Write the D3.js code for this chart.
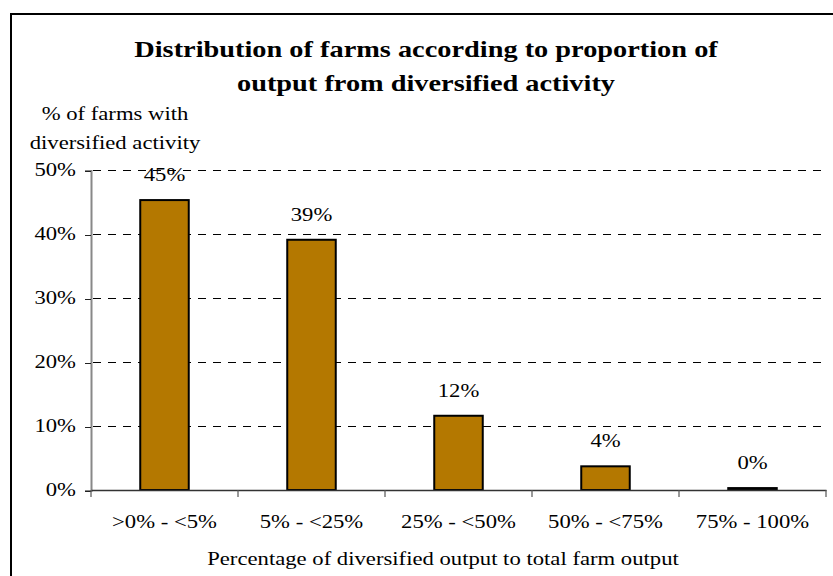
<!DOCTYPE html>
<html>
<head>
<meta charset="utf-8">
<script src="https://cdn.jsdelivr.net/npm/d3@7"></script>
<style>
  html, body { margin: 0; padding: 0; background: #fff; }
  svg { display: block; }
</style>
</head>
<body>
<svg id="chart" width="833" height="576"></svg>
<script>
// Data
const categories = [">0% - <5%", "5% - <25%", "25% - <50%", "50% - <75%", "75% - 100%"];
const shares = [0.453, 0.391, 0.116, 0.037, 0.003];
const yTicks = [0, 0.1, 0.2, 0.3, 0.4, 0.5];
const titleLines = ["Distribution of farms according to proportion of", "output from diversified activity"];
const yTitleLines = ["% of farms with", "diversified activity"];
const xTitle = "Percentage of diversified output to total farm output";

const W = 833, H = 576;
const SX = 1.26; // horizontal text widening
const FONT = "'Liberation Serif', Tinos, 'Times New Roman', 'DejaVu Serif', serif";
const pct = d3.format(".0%");

const svg = d3.select("#chart");

const x = d3.scaleBand().domain(categories).range([91, 826]).padding(0);
const y = d3.scaleLinear().domain([0, 0.5]).range([490, 170]);

// helper: text widened horizontally around its anchor point
function label(g, str, px, py, opts) {
  return g.append("text")
    .attr("transform", `translate(${px},${py}) scale(${SX},1)`)
    .attr("text-anchor", opts.anchor || "middle")
    .attr("font-family", FONT)
    .attr("font-size", opts.size || 18)
    .attr("font-weight", opts.weight || "normal")
    .attr("fill", "#000")
    .text(str);
}

// outer frame (top and left edges)
svg.append("path")
  .attr("d", `M11,${H + 2} L11,14 L${W + 2},14`)
  .attr("fill", "none")
  .attr("stroke", "#000")
  .attr("stroke-width", 2);

// title
titleLines.forEach((t, i) => label(svg, t, 426, 57 + i * 34, { size: 22.5, weight: "bold" }));

// y-axis title
yTitleLines.forEach((t, i) => label(svg, t, 115, 120 + i * 29, { size: 18 }));

// gridlines
svg.append("g").selectAll("line")
  .data(yTicks.filter(d => d > 0))
  .join("line")
  .attr("x1", 91).attr("x2", 826)
  .attr("y1", d => y(d) + 0.5).attr("y2", d => y(d) + 0.5)
  .attr("stroke", "#000")
  .attr("stroke-width", 1)
  .attr("shape-rendering", "crispEdges")
  .attr("stroke-dasharray", "8,7")
  .attr("stroke-dashoffset", -2);

// y axis
const yAxis = svg.append("g")
  .attr("transform", "translate(91,0.5)")
  .call(d3.axisLeft(y).tickValues(yTicks).tickSize(6).tickFormat(""));
yAxis.select(".domain").attr("stroke", "#888").attr("stroke-width", 2);
yAxis.selectAll(".tick line").attr("stroke", "#222").attr("shape-rendering", "crispEdges");
yTicks.forEach(v => label(svg, pct(v), 76, y(v) + 5.5, { anchor: "end", size: 18 }));

// bars
const bw = x.bandwidth();
svg.append("g").selectAll("rect")
  .data(categories.map((c, i) => ({ c, v: shares[i] })))
  .join("rect")
  .attr("x", d => x(d.c) + bw * 0.335)
  .attr("width", bw * 0.33)
  .attr("y", d => y(d.v))
  .attr("height", d => y(0) - y(d.v))
  .attr("fill", "#B47800")
  .attr("stroke", "#000")
  .attr("stroke-width", 2);

// x axis
const xAxis = svg.append("g")
  .attr("transform", `translate(0,${y(0)})`)
  .call(d3.axisBottom(x).tickSize(0).tickFormat(""));
xAxis.select(".domain").attr("stroke", "#333").attr("stroke-width", 1.5);
xAxis.selectAll(".tick").remove();
svg.append("g").selectAll("line")
  .data(categories.concat(["end"]))
  .join("line")
  .attr("x1", (d, i) => i < categories.length ? x(d) : x.range()[1])
  .attr("x2", (d, i) => i < categories.length ? x(d) : x.range()[1])
  .attr("y1", y(0)).attr("y2", y(0) + 7)
  .attr("stroke", "#555")
  .attr("stroke-width", 1.2);

// category labels
categories.forEach(c => label(svg, c, x(c) + bw / 2, 528, { size: 18 }));

// value labels
categories.forEach((c, i) => label(svg, pct(shares[i]), x(c) + bw / 2, y(shares[i]) - 19, { size: 18 }));

// x-axis title
label(svg, xTitle, 443, 565, { size: 18 });
</script>
</body>
</html>
